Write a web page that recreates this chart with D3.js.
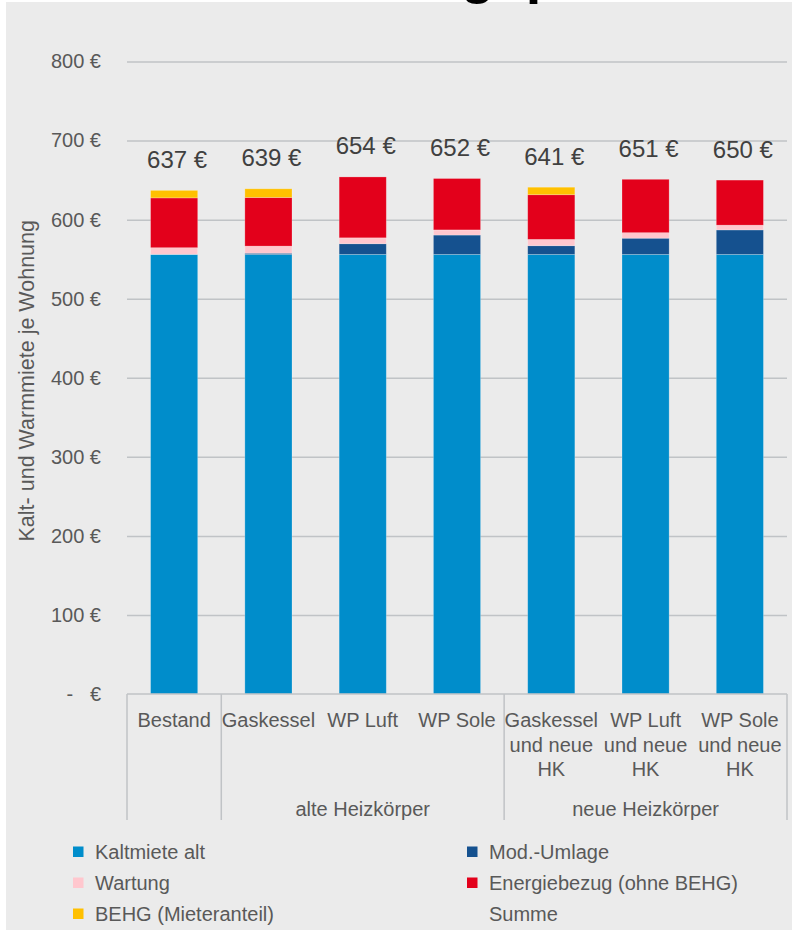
<!DOCTYPE html>
<html>
<head>
<meta charset="utf-8">
<script src="https://cdn.jsdelivr.net/npm/d3@7"></script>
<style>
    body { margin: 0; background: #ffffff; }
    svg { display: block; font-family: "Liberation Sans", Arial, sans-serif; }
</style>
</head>
<body>
<div id="chart"></div>
<script>
// Data
const categories = ["Bestand", "Gaskessel", "WP Luft", "WP Sole",
    "Gaskessel und neue HK", "WP Luft und neue HK", "WP Sole und neue HK"];
const categoryLines = [["Bestand"], ["Gaskessel"], ["WP Luft"], ["WP Sole"],
    ["Gaskessel", "und neue", "HK"], ["WP Luft", "und neue", "HK"], ["WP Sole", "und neue", "HK"]];
const groupLabels = ["", "alte Heizkörper", "neue Heizkörper"];
const groupOf = [0, 1, 1, 1, 2, 2, 2];

const kaltmiete = [556, 556, 556, 556, 556, 556, 556];
const modUmlage = [0, 1.5, 13.5, 24.5, 11, 20.5, 31];
const wartung = [8.5, 9, 7.5, 6.5, 8, 7, 6];
const energie = [63, 61.5, 77, 65, 56.5, 67.5, 57];
const behg = [9.5, 11, 0, 0, 9.5, 0, 0];
const summe = [637, 639, 654, 652, 641, 651, 650];

const yTicks = [0, 100, 200, 300, 400, 500, 600, 700, 800];

const seriesNames = ["Kaltmiete alt", "Mod.-Umlage", "Wartung", "Energiebezug (ohne BEHG)", "BEHG (Mieteranteil)"];
const seriesValues = [kaltmiete, modUmlage, wartung, energie, behg];
const seriesColors = ["#008dcb", "#15518f", "#ffc7ce", "#e3001b", "#ffc000"];

// Set dimensions
const width = 795;
const height = 937;
const plot = {left: 127, right: 787, top: 61.5, bottom: 694};

const svg = d3.select('#chart')
    .append('svg')
    .attr('width', width)
    .attr('height', height);

// Panel background
svg.append('rect')
    .attr('x', 6).attr('y', 2)
    .attr('width', 786).attr('height', 928)
    .attr('fill', '#ebebeb');

// Cropped title (only descenders visible)
svg.append('text')
    .attr('x', 392).attr('y', -8)
    .style('font-size', '56px')
    .style('font-weight', 'bold')
    .attr('fill', '#000')
    .text('ungsp');

// Create scales
const xScale = d3.scaleBand()
    .domain(categories)
    .range([plot.left, plot.right])
    .paddingInner(0.5)
    .paddingOuter(0.25);

const yScale = d3.scaleLinear()
    .domain([0, 800])
    .range([plot.bottom, plot.top]);

// Gridlines
svg.append('g')
    .attr('transform', `translate(${plot.left},0)`)
    .call(d3.axisLeft(yScale).tickValues(yTicks.slice(1)).tickSize(-(plot.right - plot.left)).tickFormat(''))
    .call(g => g.select('.domain').remove())
    .selectAll('line')
    .attr('stroke', '#c0c3c6')
    .attr('stroke-width', 1.5);

// Y axis labels
const yAxis = svg.append('g')
    .attr('transform', 'translate(101,0)')
    .call(d3.axisLeft(yScale).tickValues(yTicks).tickSize(0).tickPadding(0)
        .tickFormat(d => d === 0 ? '-\u00a0\u00a0\u00a0€' : `${d} €`));
yAxis.select('.domain').remove();
yAxis.selectAll('text')
    .style('font-size', '20px')
    .style('font-family', '"Liberation Sans", Arial, sans-serif')
    .attr('fill', '#595959');

// Y axis title
svg.append('text')
    .attr('transform', `translate(34,${(plot.top + plot.bottom) / 2 + 3}) rotate(-90)`)
    .attr('text-anchor', 'middle')
    .style('font-size', '21.5px')
    .attr('fill', '#595959')
    .text('Kalt- und Warmmiete je Wohnung');

// Stack the series
const rows = categories.map((c, i) => {
    const row = {category: c};
    seriesNames.forEach((s, j) => { row[s] = seriesValues[j][i]; });
    return row;
});
const stacked = d3.stack().keys(seriesNames)(rows);

// Create bars
svg.selectAll('.series')
    .data(stacked)
    .enter().append('g')
    .attr('class', 'series')
    .attr('fill', (d, i) => seriesColors[i])
    .selectAll('rect')
    .data(d => d.filter(p => p[1] - p[0] > 0))
    .enter().append('rect')
    .attr('x', d => xScale(d.data.category))
    .attr('width', xScale.bandwidth())
    .attr('y', d => yScale(d[1]))
    .attr('height', d => yScale(d[0]) - yScale(d[1]))
    .attr('stroke', '#ffffff')
    .attr('stroke-opacity', 0.3)
    .attr('stroke-width', 0.75);

// Sum labels
svg.selectAll('.sum-label')
    .data(summe)
    .enter().append('text')
    .attr('class', 'sum-label')
    .attr('x', (d, i) => xScale(categories[i]) + xScale.bandwidth() / 2 + 3)
    .attr('y', d => yScale(d) - 31 + 8.5)
    .attr('text-anchor', 'middle')
    .style('font-size', '24px')
    .attr('fill', '#404040')
    .text(d => `${d} €`);

// X axis
const step = xScale.step();
const xAxis = svg.append('g')
    .attr('transform', `translate(0,${plot.bottom})`)
    .call(d3.axisBottom(xScale).tickSize(0).tickFormat(''));
xAxis.select('.domain').remove();

xAxis.selectAll('.tick').each(function(d, i) {
    const t = d3.select(this).append('text')
        .attr('text-anchor', 'middle')
        .attr('fill', '#595959')
        .style('font-size', '20px')
        .style('font-family', '"Liberation Sans", Arial, sans-serif');
    categoryLines[i].forEach((line, k) => {
        t.append('tspan').attr('x', 0).attr('y', 33 + k * 24.5).text(line);
    });
});

svg.append('line')
    .attr('x1', plot.left).attr('x2', plot.right)
    .attr('y1', plot.bottom).attr('y2', plot.bottom)
    .attr('stroke', '#c0c3c6').attr('stroke-width', 1.5);

// Group dividers and labels
const groupBounds = groupLabels.map((g, gi) => {
    const idx = groupOf.map((v, i) => v === gi ? i : -1).filter(i => i >= 0);
    return {label: g, start: plot.left + d3.min(idx) * step, end: plot.left + (d3.max(idx) + 1) * step};
});
const dividerX = [plot.left].concat(groupBounds.map(g => g.end));

svg.selectAll('.divider')
    .data(dividerX)
    .enter().append('line')
    .attr('class', 'divider')
    .attr('x1', d => d).attr('x2', d => d)
    .attr('y1', plot.bottom).attr('y2', 820)
    .attr('stroke', '#c0c3c6').attr('stroke-width', 1.5);

svg.selectAll('.group-label')
    .data(groupBounds)
    .enter().append('text')
    .attr('class', 'group-label')
    .attr('x', d => (d.start + d.end) / 2)
    .attr('y', 816)
    .attr('text-anchor', 'middle')
    .style('font-size', '20px')
    .attr('fill', '#595959')
    .text(d => d.label);

// Legend
const legendItems = seriesNames.map((s, i) => ({name: s, color: seriesColors[i]}))
    .concat([{name: 'Summe', color: null}]);
const legendColX = [73, 467];
const legendRowY = [852, 883, 914];

const legend = svg.selectAll('.legend')
    .data(legendItems)
    .enter().append('g')
    .attr('class', 'legend')
    .attr('transform', (d, i) => `translate(${legendColX[i % 2]},${legendRowY[Math.floor(i / 2)]})`);

legend.filter(d => d.color)
    .append('rect')
    .attr('x', 0).attr('y', -5.5)
    .attr('width', 10.5).attr('height', 10.5)
    .attr('fill', d => d.color);

legend.append('text')
    .attr('x', 22)
    .attr('y', 7)
    .style('font-size', '20px')
    .attr('fill', '#595959')
    .text(d => d.name);
</script>
</body>
</html>
